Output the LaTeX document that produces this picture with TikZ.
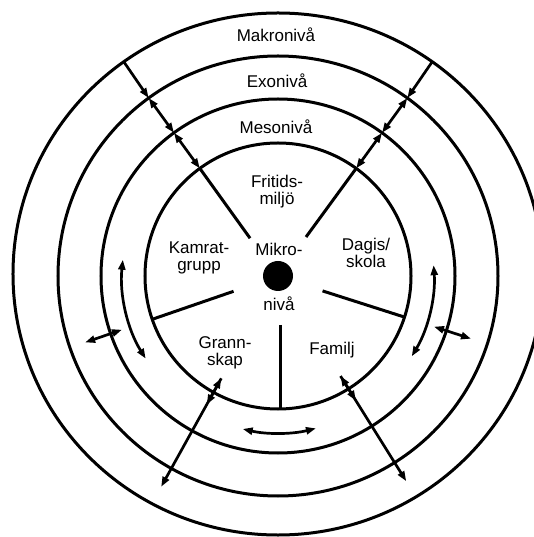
\documentclass[tikz,border=0pt]{standalone}
\usepackage{fontspec}
\setmainfont{Liberation Sans}
\usetikzlibrary{arrows.meta,shapes.geometric}
\begin{document}
\begin{tikzpicture}[x=1pt,y=1pt,
  ring/.style={draw, circle, line width=3pt, inner sep=0pt, outer sep=0pt},
  spoke/.style={line width=3pt},
  tip/.tip={Triangle[length=10pt,width=7pt]},
  arr/.style={line width=2.7pt, tip-tip},
  arrone/.style={line width=2.7pt, -tip},
  lbl/.style={font=\fontsize{17}{17}\selectfont, align=center, inner sep=0pt, anchor=base}
]
\useasboundingbox (-278,-261) rectangle (256,276);
% rings
\node[ring, minimum size=266pt] (micro) at (0,0) {};
\node[ring, minimum size=354pt] (meso) at (0,0) {};
\node[ring, minimum size=440pt] (exo) at (0,0) {};
\node[draw, ellipse, line width=3pt, inner sep=0pt, outer sep=0pt,
      minimum width=530pt, minimum height=522pt] (macro) at (0,2) {};
% centre dot
\node[circle, fill=black, minimum size=30pt, inner sep=0pt] (dot) at (0,0) {};
% spoke starts
\coordinate (s1) at (126.5:47);
\coordinate (s2) at (54.3:48);
\coordinate (s3) at (199:47);
\coordinate (s4) at (-18.5:47);
\coordinate (s5) at (2,-49);
\coordinate (s5e) at (2,-133);
% spokes
\draw[spoke] (s1) -- (micro.126.5);
\draw[spoke] (s2) -- (micro.54.3);
\draw[spoke] (s3) -- (micro.199);
\draw[spoke] (s4) -- (micro.-18.5);
\draw[spoke] (s5) -- (s5e);
% upper-left radial chain
\draw[arrone] (macro.126.5) -- (exo.126.5);
\draw[arr] (exo.126.5) -- (meso.126.5);
\draw[arr] (meso.126.5) -- (micro.126.5);
% upper-right radial chain
\draw[arrone] (macro.54.3) -- (exo.54.3);
\draw[arr] (exo.54.3) -- (meso.54.3);
\draw[arr] (meso.54.3) -- (micro.54.3);
% short radial arrows
\coordinate (la1) at (199:165); \coordinate (la2) at (199:204);
\draw[arr] (la1) -- (la2);
\coordinate (ra1) at (-18:164); \coordinate (ra2) at (-18:203);
\draw[arr] (ra1) -- (ra2);
% curved arrows
\coordinate (lc) at (174:156);
\draw[arr] (lc) arc[start angle=174, end angle=212, radius=156];
\coordinate (rc) at (4:156);
\draw[arr] (rc) arc[start angle=4, end angle=-31, radius=156];
\coordinate (bc) at (-103:157);
\draw[arr] (bc) arc[start angle=-103, end angle=-76, radius=157];
% lower radial arrows
\coordinate (g1) at (241:117); \coordinate (g2) at (241:147); \coordinate (g3) at (241:241);
\draw[arr] (g1) -- (g3);
\draw[arrone] (g1) -- (g2);
\coordinate (f1) at (-58:118); \coordinate (f2) at (-58:147); \coordinate (f3) at (-58:242);
\draw[arr] (f1) -- (f3);
\draw[arrone] (f1) -- (f2);
% labels
\node[lbl] (makro) at (-2,234) {Makronivå};
\node[lbl] (exot) at (-1,188) {Exonivå};
\node[lbl] (mesot) at (-2,142) {Mesonivå};
\node[lbl] (frit) at (-1,71) {Fritids-\\miljö};
\node[lbl] (kamr) at (-79,5) {Kamrat-\\grupp};
\node[lbl] (mikr) at (1,20) {Mikro-};
\node[lbl] (dagis) at (88,8) {Dagis/\\skola};
\node[lbl] (niva) at (1,-35) {nivå};
\node[lbl] (grann) at (-53,-90) {Grann-\\skap};
\node[lbl] (fam) at (54,-78) {Familj};
\end{tikzpicture}
\end{document}
